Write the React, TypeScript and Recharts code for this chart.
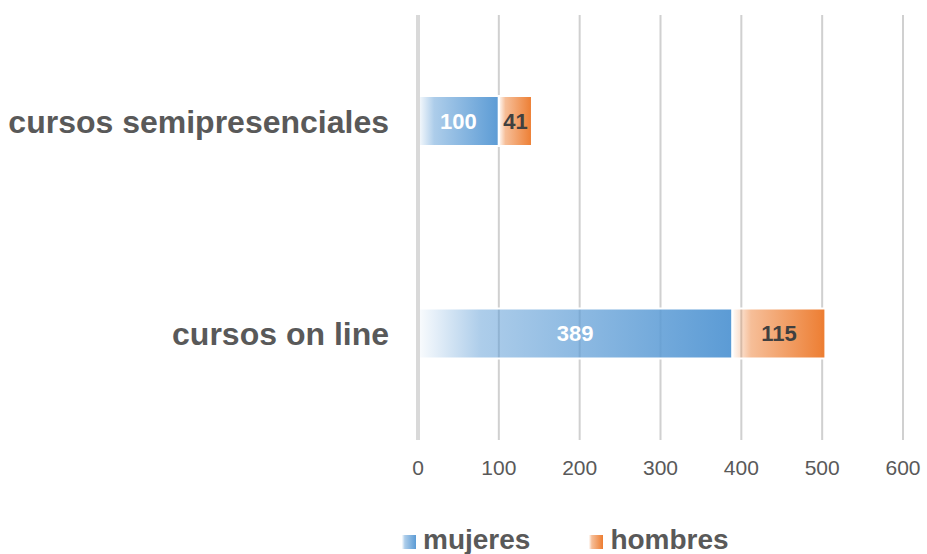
import { BarChart, Bar, XAxis, YAxis, CartesianGrid, Legend, LabelList } from 'recharts'

const categories = ['cursos semipresenciales', 'cursos on line']
const mujeres = [100, 389]
const hombres = [41, 115]
const xTicks = [0, 100, 200, 300, 400, 500, 600]

const BLUE = '#5B9BD5'
const ORANGE = '#ED7D31'
const TEXT = '#595959'
const FONT = '"Liberation Sans", Arial, sans-serif'

const data = categories.map((name, i) => ({
  name,
  mujeres: mujeres[i],
  hombres: hombres[i],
}))

function renderLegend() {
  const items = [
    { label: 'mujeres', grad: 'url(#gradMujeres)' },
    { label: 'hombres', grad: 'url(#gradHombres)' },
  ]
  return (
    <div style={{ display: 'flex', justifyContent: 'flex-start', gap: 59, paddingLeft: 402, marginTop: 16 }}>
      {items.map((it) => (
        <div key={it.label} style={{ display: 'flex', alignItems: 'center' }}>
          <svg width={14} height={14} style={{ marginRight: 7, marginTop: 4 }}>
            <rect width={14} height={14} fill={it.grad} />
          </svg>
          <span style={{ fontFamily: FONT, fontWeight: 700, fontSize: 28, color: TEXT, lineHeight: '32px' }}>
            {it.label}
          </span>
        </div>
      ))}
    </div>
  )
}

export default function App() {
  return (
    <div style={{ position: 'absolute', left: 0, top: 0, width: 927, height: 554, background: '#fff' }}>
      <BarChart
        width={927}
        height={554}
        data={data}
        layout="vertical"
        margin={{ top: 15, right: 24, left: 0, bottom: 6 }}
        barSize={50}
      >
        <defs>
          <linearGradient id="gradMujeres" x1="0" y1="0" x2="1" y2="0">
            <stop offset="0%" stopColor={BLUE} stopOpacity={0.03} />
            <stop offset="20%" stopColor={BLUE} stopOpacity={0.5} />
            <stop offset="100%" stopColor={BLUE} stopOpacity={1} />
          </linearGradient>
          <linearGradient id="gradHombres" x1="0" y1="0" x2="1" y2="0">
            <stop offset="0%" stopColor={ORANGE} stopOpacity={0.03} />
            <stop offset="20%" stopColor={ORANGE} stopOpacity={0.5} />
            <stop offset="100%" stopColor={ORANGE} stopOpacity={1} />
          </linearGradient>
        </defs>
        <CartesianGrid horizontal={false} stroke="#d0d0d0" strokeWidth={2} />
        <XAxis
          type="number"
          domain={[0, 600]}
          ticks={xTicks}
          axisLine={false}
          tickLine={false}
          tickSize={0}
          tickMargin={20}
          height={68}
          tick={{ fontSize: 21, fill: TEXT, fontFamily: FONT }}
        />
        <YAxis
          type="category"
          dataKey="name"
          width={418}
          axisLine={{ stroke: '#d9d9d9', strokeWidth: 4 }}
          tickLine={false}
          tickSize={0}
          tickMargin={29}
          tick={{ fontSize: 32, fill: TEXT, fontFamily: FONT, fontWeight: 700 }}
        />
        <Legend verticalAlign="bottom" height={40} content={renderLegend} />
        <Bar dataKey="mujeres" stackId="a" fill="url(#gradMujeres)" stroke="#fff" strokeWidth={2} isAnimationActive={false}>
          <LabelList
            dataKey="mujeres"
            position="center"
            fill="#fff"
            style={{ fontSize: 22, fontWeight: 700, fontFamily: FONT }}
          />
        </Bar>
        <Bar dataKey="hombres" stackId="a" fill="url(#gradHombres)" stroke="#fff" strokeWidth={2} isAnimationActive={false}>
          <LabelList
            dataKey="hombres"
            position="center"
            fill="#404040"
            style={{ fontSize: 22, fontWeight: 700, fontFamily: FONT }}
          />
        </Bar>
      </BarChart>
    </div>
  )
}
